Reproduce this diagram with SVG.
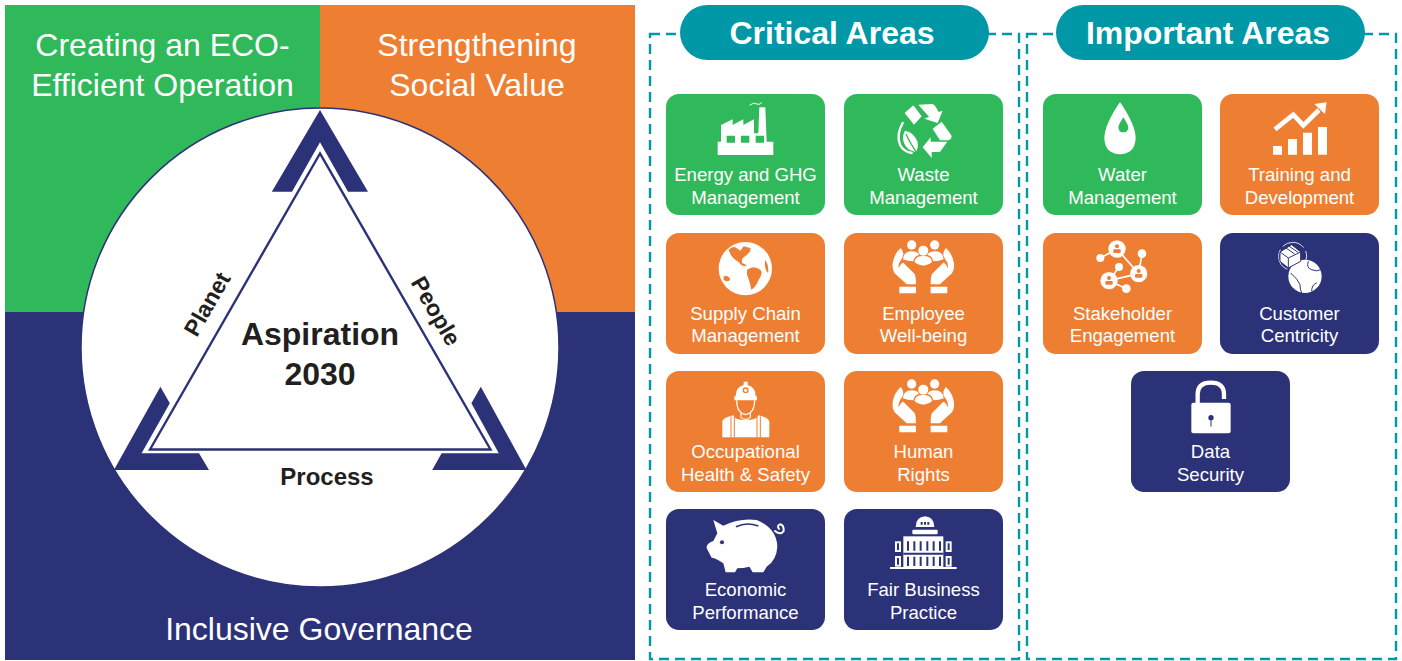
<svg xmlns="http://www.w3.org/2000/svg" xmlns:xlink="http://www.w3.org/1999/xlink" width="1402" height="661" viewBox="0 0 1402 661">
<style>
text{font-family:"Liberation Sans",Arial,sans-serif;text-anchor:middle}
.w{fill:#fff}.g{fill:#2fb95a}.o{fill:#ee7e32}.n{fill:#2c3277}
.hd{font-size:32px;fill:#fff}
.k{font-weight:bold;fill:#231f20}
.lb{font-size:18.600px;fill:#fff}
.pill{fill:#0097a7}
.pt{font-size:32px;font-weight:bold;fill:#fff}
.dash{fill:none;stroke:#0097a7;stroke-width:2.400;stroke-dasharray:10 6}
.sw{fill:none;stroke:#fff;stroke-linecap:round}
.card{rx:13px;ry:13px}
</style>
<defs>
<g id="hands">
<circle cx="755" cy="465" r="14" class="w"/><circle cx="824" cy="465" r="14" class="w"/>
<path class="w" d="M729 508Q731 484 755 484Q770 484 778 494Q763 498 760 514Q742 514 729 508ZM851 508Q849 484 825 484Q810 484 802 494Q817 498 820 514Q838 514 851 508Z"/>
<circle cx="790" cy="482" r="15" class="w"/>
<path class="w" d="M764 514Q767 498 790 498Q813 498 816 514Q816 522 790 527Q764 522 764 514Z"/>
<path id="hl" class="w" d="M722 474Q736 490 726 505Q714 520 716 535Q722 520 730 518L764 552Q768 560 768 583H740L704 550Q696 538 698 520Q702 492 722 474Z"/>
<use xlink:href="#hl" transform="translate(1580,0) scale(-1,1)"/>
<rect class="w" x="718" y="590" width="50" height="20" rx="2"/><rect class="w" x="812" y="590" width="50" height="20" rx="2"/>
</g>
</defs>

<g id="panel-eco"><rect class="g" x="5" y="5" width="315" height="307"/><text class="hd" x="162.500" y="56">Creating an ECO-</text><text class="hd" x="162.500" y="96">Efficient Operation</text></g>
<g id="panel-social"><rect class="o" x="320" y="5" width="315" height="307"/><text class="hd" x="477" y="56">Strengthening</text><text class="hd" x="477" y="96">Social Value</text></g>
<g id="panel-governance"><rect class="n" x="5" y="312" width="630" height="348"/><text class="hd" x="319" y="640">Inclusive Governance</text></g>

<g id="aspiration">
<ellipse cx="320" cy="347.500" rx="239" ry="239.500" fill="#fff" stroke="#2c3277" stroke-width="1.500"/>
<path class="n" d="M320 110L368 191.700H348L320 142.300L292 191.700H271.800Z"/>
<path class="n" d="M160.400 386.700L169.800 403.300L141.600 453.300H199L209 470H113.900Z"/>
<path class="n" d="M480.800 386.700L471.400 403.300L498.800 453.300H441.600L432.200 470H526.500Z"/>
<path d="M320 153.500L150 449.500H490.500Z" fill="#fff" stroke="#2c3277" stroke-width="2.400"/>
<text class="k" x="320" y="345" font-size="32">Aspiration</text>
<text class="k" x="320" y="385" font-size="32">2030</text>
<text class="k" x="327" y="485" font-size="24">Process</text>
<text class="k" font-size="23" transform="translate(214,308) rotate(-60)">Planet</text>
<text class="k" font-size="23" transform="translate(429,315) rotate(60)">People</text>
</g>

<g id="boundaries">
<rect class="dash" x="650" y="34" width="369" height="625"/>
<rect class="dash" x="1027" y="34" width="369" height="625"/>
</g>
<g id="critical-areas"><rect class="pill" x="680" y="5" width="309" height="55" rx="27.500"/><text class="pt" x="832" y="44">Critical Areas</text></g>
<g id="important-areas"><rect class="pill" x="1056" y="5" width="309" height="55" rx="27.500"/><text class="pt" x="1208" y="44">Important Areas</text></g>

<g id="energy"><rect class="g card" x="666" y="94" width="159" height="121"/>
<g transform="translate(660,90) scale(.3333)"><path class="w" d="M183 155V105L218 88V105L250 88V105L282 88V130H295L298 52H316L320 155H340V195H173V155Z"/><path class="g" d="M200 137h25v21h-25zM243 137h25v21h-25zM287 137h25v21h-25z"/><path class="sw" stroke-width="3" d="M270 45Q282 35 290 42Q298 46 305 38"/></g>
<text class="lb" x="745.500" y="180.500">Energy and GHG</text><text class="lb" x="745.500" y="203.500">Management</text></g>

<g id="waste"><rect class="g card" x="844" y="94" width="159" height="121"/>
<g transform="translate(890,98)  scale(.3333)"><path class="w" d="M44 45L70 22L95 55L72 80ZM85 20L128 18Q134 20 138 28L146 42L158 38L143 75L103 62L117 56ZM128 92L155 71L184 112Q187 124 175 127L150 127ZM98 148L122 118V131H172L150 162H125V180Z"/><path class="sw" stroke-width="7" d="M38 75Q18 110 30 140Q40 160 65 165"/><path class="w" d="M45 98Q72 103 82 130Q87 150 77 162Q50 157 42 135Q35 115 45 98Z"/><path fill="none" stroke="#2fb95a" stroke-width="4" d="M48 108Q60 135 85 172"/></g>
<text class="lb" x="923.500" y="180.500">Waste</text><text class="lb" x="923.500" y="203.500">Management</text></g>

<g id="water"><rect class="g card" x="1043" y="94" width="159" height="121"/>
<g transform="translate(1035,90) scale(.3333)"><path class="w" d="M255 36Q208 105 208 145Q210 192 255 193Q300 192 302 145Q302 105 255 36Z"/><path class="g" d="M265 82Q250 105 250 113Q252 127 265 127Q278 127 280 113Q280 105 265 82Z"/></g>
<text class="lb" x="1122.500" y="180.500">Water</text><text class="lb" x="1122.500" y="203.500">Management</text></g>

<g id="training"><rect class="o card" x="1220" y="94" width="159" height="121"/>
<g transform="translate(1035,90) scale(.3333)"><path class="w" d="M714 168h27v26h-27zM759 147h27v47h-27zM804 128h27v66h-27zM849 111h27v83h-27z"/><path fill="none" stroke="#fff" stroke-width="14" d="M720 118L775 74L805 106L852 60"/><path class="w" d="M875 37L838 42L870 72Z"/></g>
<text class="lb" x="1299.500" y="180.500">Training and</text><text class="lb" x="1299.500" y="203.500">Development</text></g>

<g id="supply-chain"><rect class="o card" x="666" y="233" width="159" height="121"/>
<g transform="translate(712,238) scale(.3333)"><circle class="w" cx="100" cy="92" r="80"/><path class="o" d="M50 35Q60 25 70 28L85 38L95 25L115 30Q118 40 105 50L95 58Q88 62 90 75L105 82Q90 88 80 72Q62 62 55 48ZM105 95Q125 80 145 95Q155 105 140 125Q130 150 118 155Q112 125 105 110ZM160 65Q172 85 168 105Q155 90 160 65ZM35 115Q50 110 55 125Q45 135 35 125Z"/></g>
<text class="lb" x="745.500" y="319.500">Supply Chain</text><text class="lb" x="745.500" y="342">Management</text></g>

<g id="employee"><rect class="o card" x="844" y="233" width="159" height="121"/>
<use xlink:href="#hands" transform="translate(660,90) scale(.3333)"/>
<text class="lb" x="923.500" y="319.500">Employee</text><text class="lb" x="923.500" y="342">Well-being</text></g>

<g id="stakeholder"><rect class="o card" x="1043" y="233" width="159" height="121"/>
<g transform="translate(1093,238) scale(.3333)"><path fill="none" stroke="#fff" stroke-width="5" d="M22 60L72 33L137 107L147 47M78 87L48 128L137 107M48 128L100 152"/>
<g class="w"><circle cx="72" cy="33" r="26"/><circle cx="137" cy="107" r="26"/><circle cx="48" cy="128" r="26"/><circle cx="22" cy="60" r="12"/><circle cx="147" cy="47" r="13"/><circle cx="78" cy="87" r="12"/><circle cx="100" cy="152" r="13"/></g>
<g class="o"><circle cx="72" cy="25" r="6"/><rect x="61" y="34" width="22" height="11" rx="3"/><circle cx="137" cy="99" r="6"/><rect x="126" y="108" width="22" height="11" rx="3"/><circle cx="48" cy="120" r="6"/><rect x="37" y="129" width="22" height="11" rx="3"/></g></g>
<text class="lb" x="1122.500" y="319.500">Stakeholder</text><text class="lb" x="1122.500" y="342">Engagement</text></g>

<g id="customer"><rect class="n card" x="1220" y="233" width="159" height="121"/>
<g transform="translate(1270,238) scale(.3333)"><circle cx="68" cy="55" r="42" fill="none" stroke="#fff" stroke-width="2.500" stroke-dasharray="70 12"/><circle class="w" cx="105" cy="115" r="50"/><path fill="none" stroke="#2c3277" stroke-width="3" d="M115 70Q108 90 125 95Q140 102 152 95M62 105Q85 125 90 140Q90 155 95 165M125 160Q125 140 140 135"/><path class="w" stroke="#2c3277" stroke-width="3" d="M30 42L65 20L92 42V70L55 90L30 70Z"/><path fill="none" stroke="#2c3277" stroke-width="3" d="M30 42L55 60L92 42M55 60V90M48 30L74 48M58 25L84 43"/></g>
<text class="lb" x="1299.500" y="319.500">Customer</text><text class="lb" x="1299.500" y="342">Centricity</text></g>

<g id="safety"><rect class="o card" x="666" y="371" width="159" height="121"/>
<g transform="translate(715,378) scale(.3333)"><path class="w" d="M22 178V130Q25 118 55 112Q60 125 78 125H106Q124 125 130 112Q160 118 163 130V178Z"/><path class="w" d="M62 55Q62 27 86 21V11H98V21Q122 27 122 55ZM58 55H126V67H58Z"/><circle cx="92" cy="37" r="7" fill="none" stroke="#ee7e32" stroke-width="4"/><path fill="none" stroke="#fff" stroke-width="3.500" d="M65 67Q65 105 92 110Q119 105 119 67M78 105V118Q92 130 106 118V105"/><path fill="none" stroke="#ee7e32" stroke-width="3" d="M48 115V178M58 115V178M126 115V178M136 115V178"/></g>
<text class="lb" x="745.500" y="458">Occupational</text><text class="lb" x="745.500" y="481">Health &amp; Safety</text></g>

<g id="human-rights"><rect class="o card" x="844" y="371" width="159" height="121"/>
<use xlink:href="#hands" transform="translate(660,229) scale(.3333)"/>
<text class="lb" x="923.500" y="458">Human</text><text class="lb" x="923.500" y="481">Rights</text></g>

<g id="data-security"><rect class="n card" x="1131" y="371" width="159" height="121"/>
<g transform="translate(1120,365) scale(.3333)"><path fill="none" stroke="#fff" stroke-width="13" d="M233 115V88Q233 53 272 53Q312 53 312 88V102"/><rect class="w" x="214" y="113" width="118" height="92" rx="6"/><circle class="n" cx="273" cy="158" r="8"/><path fill="none" stroke="#2c3277" stroke-width="3" d="M273 160V185"/></g>
<text class="lb" x="1210.500" y="458">Data</text><text class="lb" x="1210.500" y="481">Security</text></g>

<g id="economic"><rect class="n card" x="666" y="509" width="159" height="121"/>
<g transform="translate(660,365) scale(.3333)"><path class="w" d="M160 465L190 482Q240 458 290 465Q350 490 352 545Q350 585 320 605L310 622H278L268 605Q250 610 232 610L225 622H197L190 595Q170 580 155 578L140 550Q138 535 160 528L172 505Z"/><path fill="none" stroke="#2c3277" stroke-width="5" d="M228 485Q260 470 295 483"/><circle class="n" cx="186" cy="532" r="6"/><path class="sw" stroke-width="6" d="M345 498Q362 512 371 498Q372 480 360 478Q350 482 357 492"/></g>
<text class="lb" x="745.500" y="596">Economic</text><text class="lb" x="745.500" y="619">Performance</text></g>

<g id="fair-business"><rect class="n card" x="844" y="509" width="159" height="121"/>
<g transform="translate(885,512) scale(.3333)"><path class="w" d="M92 45Q92 15 120 13Q148 15 148 45Z"/><rect class="w" x="82" y="53" width="76" height="14" rx="3"/><rect class="w" x="55" y="73" width="120" height="92"/><rect class="w" x="30" y="88" width="18" height="32"/><rect class="w" x="182" y="88" width="18" height="32"/><rect class="w" x="30" y="132" width="18" height="32"/><rect class="w" x="182" y="132" width="18" height="32"/><rect class="w" x="15" y="165" width="200" height="6"/>
<path class="n" d="M36 94h6v20h-6zM188 94h6v20h-6zM36 138h6v20h-6zM188 138h6v20h-6zM55 122h120v6H55zM66 88h6v28h-6zM85 88h6v28h-6zM104 88h6v28h-6zM124 88h6v28h-6zM143 88h6v28h-6zM162 88h6v28h-6zM66 134h6v28h-6zM85 134h6v28h-6zM104 134h6v28h-6zM124 134h6v28h-6zM143 134h6v28h-6zM162 134h6v28h-6zM107 30h6v8h-6zM117 30h6v8h-6zM127 30h6v8h-6z"/></g>
<text class="lb" x="923.500" y="596">Fair Business</text><text class="lb" x="923.500" y="619">Practice</text></g>
</svg>
